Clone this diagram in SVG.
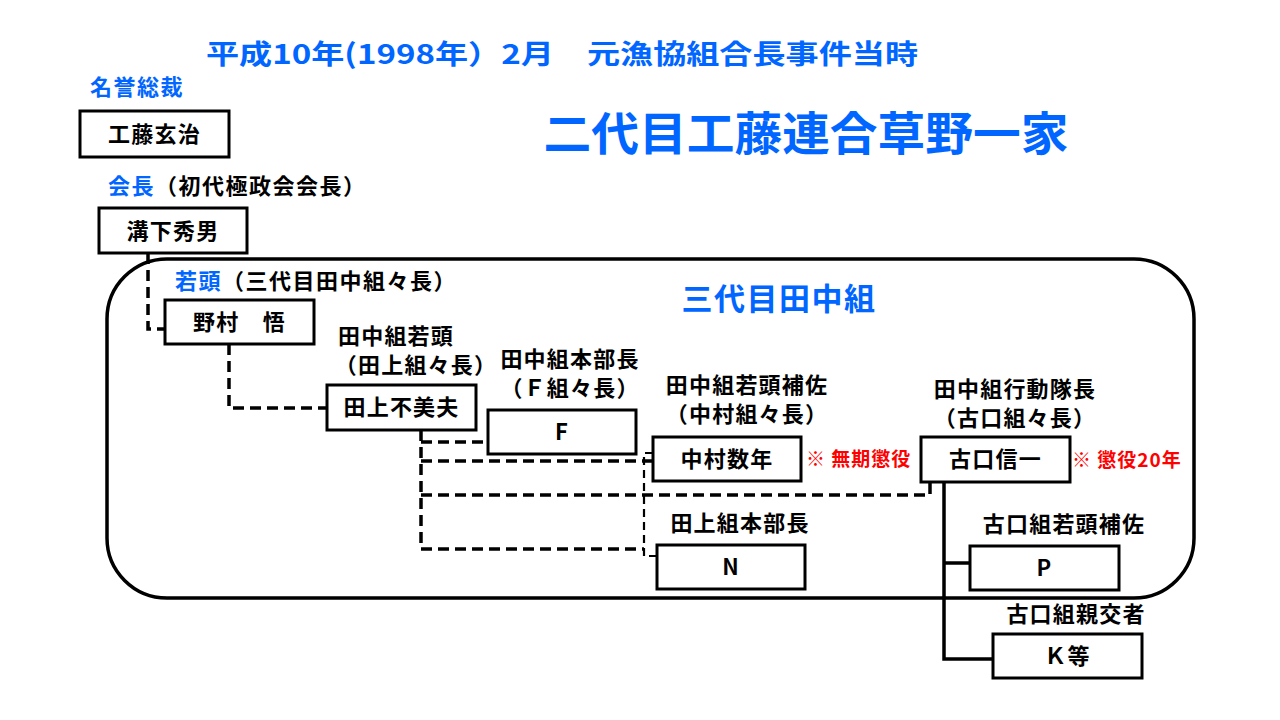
<svg xmlns="http://www.w3.org/2000/svg" width="1280" height="720" viewBox="0 0 1280 720">
<style>
text{font-family:"Noto Sans CJK JP","Noto Sans CJK SC",sans-serif;font-weight:bold;}
.blue{fill:#0066ff;}
.red{fill:#ff0000;font-size:19px;letter-spacing:1px;}
.lbl{fill:#000;font-size:22px;letter-spacing:1.2px;text-anchor:middle;}
.nt{fill:#000;font-size:22px;letter-spacing:1.2px;text-anchor:middle;}
.hd{font-size:22px;letter-spacing:1.5px;}
.box{fill:#fff;stroke:#000;stroke-width:3;}
.dash{fill:none;stroke:#000;stroke-width:3.5;stroke-dasharray:11 6;}
.thin{fill:none;stroke:#000;stroke-width:2.2;stroke-dasharray:8 5;}
.solid{fill:none;stroke:#000;stroke-width:3.5;}
</style>
<rect width="1280" height="720" fill="#fff"/>
<g id="titles">
<text class="blue" x="562" y="64" font-size="27" text-anchor="middle" textLength="712" lengthAdjust="spacingAndGlyphs">平成10年(1998年）2月　元漁協組合長事件当時</text>
<text class="blue" x="806" y="150" font-size="46" text-anchor="middle" textLength="525" lengthAdjust="spacingAndGlyphs">二代目工藤連合草野一家</text>
</g>
<g id="tanaka-group">
<rect x="107" y="259" width="1087" height="339" rx="60" ry="60" fill="none" stroke="#000" stroke-width="3.5"/>
<text class="blue" x="779" y="310" font-size="31" letter-spacing="1.5" text-anchor="middle">三代目田中組</text>
</g>
<g id="connectors">
<path class="dash" d="M148,253 V329 H165"/>
<path class="dash" d="M229,344 V408 H327"/>
<path class="dash" d="M421,430 V549 H644"/>
<path class="dash" d="M421,442 H488"/>
<path class="dash" d="M421,461 H653"/>
<path class="dash" d="M421,495 H930 V482"/>
<path class="thin" d="M653,453 H644 V556 H657"/>
<path class="solid" d="M944,482 V659 H993"/>
<path class="solid" d="M944,563 H970"/>
</g>
<g id="node-kudo">
<text class="blue hd" x="137" y="95" text-anchor="middle">名誉総裁</text>
<rect class="box" x="80" y="111" width="149" height="46"/>
<text class="nt" x="154.5" y="142">工藤玄治</text>
</g>
<g id="node-mizoshita">
<text class="hd" x="108" y="194"><tspan class="blue">会長</tspan><tspan fill="#000">（初代極政会会長）</tspan></text>
<rect class="box" x="99" y="208" width="148" height="45"/>
<text class="nt" x="173" y="239">溝下秀男</text>
</g>
<g id="node-nomura">
<text class="hd" x="175" y="289"><tspan class="blue">若頭</tspan><tspan fill="#000">（三代目田中組々長）</tspan></text>
<rect class="box" x="165" y="300" width="149" height="44"/>
<text class="nt" x="239.5" y="330">野村　悟</text>
</g>
<g id="node-tagami">
<text class="lbl" x="396" y="344">田中組若頭</text>
<text class="lbl" x="416" y="373">（田上組々長）</text>
<rect class="box" x="327" y="385" width="149" height="45"/>
<text class="nt" x="401.5" y="415">田上不美夫</text>
</g>
<g id="node-f">
<text class="lbl" x="570" y="367">田中組本部長</text>
<text class="lbl" x="570" y="396">（Ｆ組々長）</text>
<rect class="box" x="488" y="410" width="148" height="44"/>
<text class="nt" x="562" y="440">F</text>
</g>
<g id="node-nakamura">
<text class="lbl" x="747" y="393">田中組若頭補佐</text>
<text class="lbl" x="747" y="422">（中村組々長）</text>
<rect class="box" x="653" y="437" width="148" height="44"/>
<text class="nt" x="727" y="467">中村数年</text>
<text class="red" x="806" y="466">※ 無期懲役</text>
</g>
<g id="node-n">
<text class="lbl" x="740" y="531">田上組本部長</text>
<rect class="box" x="657" y="545" width="148" height="44"/>
<text class="nt" x="731" y="575">N</text>
</g>
<g id="node-furuguchi">
<text class="lbl" x="1015" y="397">田中組行動隊長</text>
<text class="lbl" x="1015" y="426">（古口組々長）</text>
<rect class="box" x="921" y="437" width="149" height="45"/>
<text class="nt" x="995.5" y="467">古口信一</text>
<text class="red" x="1072" y="467">※ 懲役20年</text>
</g>
<g id="node-p">
<text class="lbl" x="1064" y="532">古口組若頭補佐</text>
<rect class="box" x="970" y="546" width="149" height="44"/>
<text class="nt" x="1044.5" y="576">P</text>
</g>
<g id="node-k">
<text class="lbl" x="1076" y="622">古口組親交者</text>
<rect class="box" x="993" y="634" width="149" height="44"/>
<text class="nt" x="1067.5" y="664">Ｋ等</text>
</g>
</svg>
